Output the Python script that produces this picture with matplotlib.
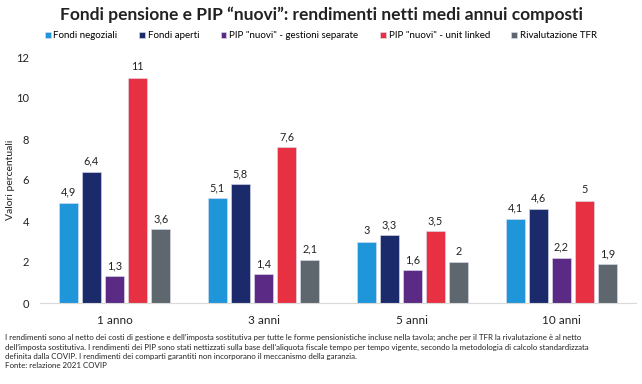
import matplotlib
matplotlib.use("Agg")
import matplotlib.pyplot as plt
import numpy as np

categories = ["1 anno", "3 anni", "5 anni", "10 anni"]
series_names = ["Fondi negoziali", "Fondi aperti", 'PIP "nuovi" - gestioni separate',
                'PIP "nuovi" - unit linked', "Rivalutazione TFR"]
fondi_negoziali = [4.9, 5.1, 3.0, 4.1]
fondi_aperti = [6.4, 5.8, 3.3, 4.6]
pip_gestioni = [1.3, 1.4, 1.6, 2.2]
pip_unit = [11.0, 7.6, 3.5, 5.0]
tfr = [3.6, 2.1, 2.0, 1.9]
series = [fondi_negoziali, fondi_aperti, pip_gestioni, pip_unit, tfr]
colors = ["#1F96DA", "#1A2A6B", "#5B2A85", "#E73143", "#5F676E"]
yticks = [0, 2, 4, 6, 8, 10, 12]

plt.rcParams['font.family'] = ['Lato', 'DejaVu Sans']

fig = plt.figure(figsize=(6.42, 3.84), dpi=100)
ax = fig.add_axes([40 / 642, 1 - 303 / 384, 596 / 642, (303 - 57) / 384])

x = np.arange(len(categories))
bw = 0.125
pitch = 0.155
for i, (vals, c, name) in enumerate(zip(series, colors, series_names)):
    pos = x + (i - 2) * pitch
    ax.bar(pos, vals, width=bw, color=c, label=name, edgecolor="#dde0f0", linewidth=0.4)
    for p, v in zip(pos, vals):
        s = f"{v:g}".replace(".", ",")
        ax.text(p, v + 0.25, s, ha="center", va="bottom", fontsize=7.8, color="#222222")

ax.set_xlim(-0.5, 3.5)
ax.set_ylim(0, 12)
ax.set_yticks(yticks)
ax.set_yticklabels([str(t) for t in yticks], fontsize=8, color="#222222")
ax.set_xticks(x)
ax.set_xticklabels(categories, fontsize=8.5, color="#222222")
ax.tick_params(axis="both", length=0)
ax.tick_params(axis="x", pad=9)
ax.tick_params(axis="y", pad=8)
for sp in ["top", "right", "left"]:
    ax.spines[sp].set_visible(False)
ax.spines["bottom"].set_color("#d9d9d9")
ax.set_ylabel("Valori percentuali", fontsize=7.5, color="#222222")
ax.yaxis.set_label_coords(-25 / 596, 0.5)

fig.text(0.5, 1 - 15 / 384, 'Fondi pensione e PIP “nuovi”: rendimenti netti medi annui composti',
         ha="center", va="center", fontsize=12.5, fontweight="bold", color="#222222")

handles, labels = ax.get_legend_handles_labels()
fig.legend(handles, labels, loc="center", bbox_to_anchor=(0.5, 1 - 36 / 384), ncol=5,
           frameon=False, fontsize=7, handlelength=0.6, handleheight=0.6,
           handletextpad=0.3, columnspacing=2.2)

foot = ("I rendimenti sono al netto dei costi di gestione e dell’imposta sostitutiva per tutte le forme pensionistiche incluse nella tavola; anche per il TFR la rivalutazione è al netto\n"
        "dell’imposta sostitutiva. I rendimenti dei PIP sono stati nettizzati sulla base dell’aliquota fiscale tempo per tempo vigente, secondo la metodologia di calcolo standardizzata\n"
        "definita dalla COVIP. I rendimenti dei comparti garantiti non incorporano il meccanismo della garanzia.\n"
        "Fonte: relazione 2021 COVIP")
fig.text(5 / 642, 1 - 334 / 384, foot, ha="left", va="top", fontsize=5.7, color="#222222", linespacing=1.4)

fig.savefig("out.png", dpi=100, facecolor="white")
